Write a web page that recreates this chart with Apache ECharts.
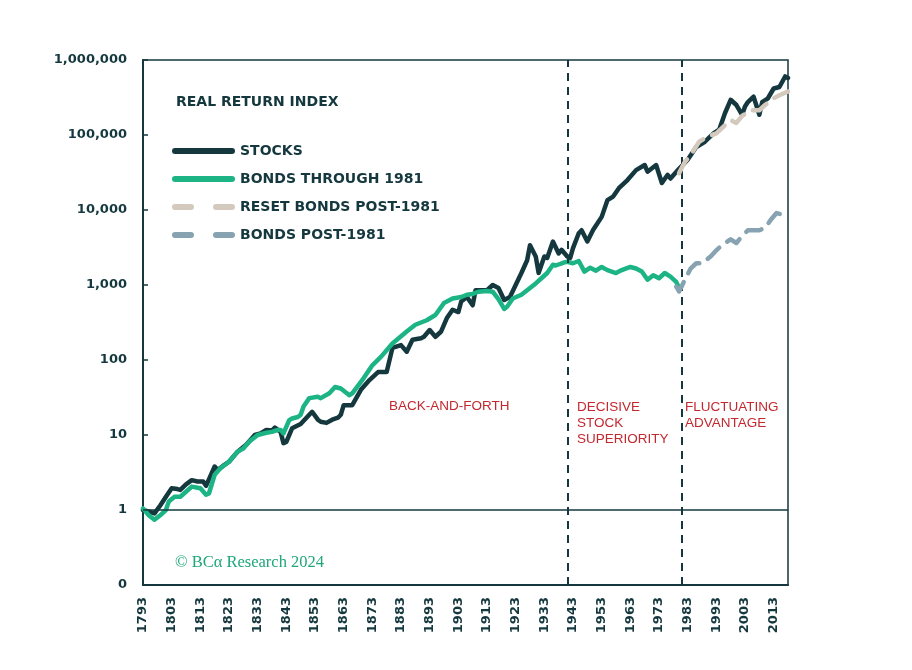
<!DOCTYPE html>
<html>
<head>
<meta charset="utf-8">
<script src="https://cdn.jsdelivr.net/npm/echarts@6/dist/echarts.min.js"></script>
<style>
html,body{margin:0;padding:0;background:#fff;}
#chart{width:912px;height:670px;}
</style>
</head>
<body>
<div id="chart"></div>
<script>
// ---- Data ----
const firstYear = 1793;
const lastYear = 2018;
const years = [];
for (let y = firstYear; y <= lastYear; y++) years.push(String(y));

const yTickValues = [0.1, 1, 10, 100, 1000, 10000, 100000, 1000000];
const regimeBreaks = ['1941', '1981'];

const stocks = [
  [1793,1.0],[1795,0.95],[1797,0.9],[1799,1.15],[1801,1.5],[1803,1.95],[1805,1.9],[1806,1.85],
  [1808,2.2],[1810,2.5],[1812,2.4],[1814,2.4],[1815,2.1],[1818,3.8],[1819,3.4],[1821,3.9],
  [1823,4.4],[1826,6.0],[1829,7.4],[1832,10],[1834,10.5],[1836,11.7],[1838,11.5],[1839,12.6],
  [1841,11],[1842,7.8],[1843,8.1],[1845,12.3],[1848,14],[1851,18.6],[1852,20.4],[1854,16],
  [1855,15],[1857,14.5],[1859,16],[1861,17],[1862,18.6],[1863,25],[1866,25],[1869,40],
  [1872,54],[1875,69],[1878,69],[1880,145],[1883,158],[1885,129],[1887,186],[1890,195],
  [1891,204],[1893,251],[1895,204],[1897,240],[1899,363],[1901,468],[1903,436],[1904,603],
  [1906,692],[1908,537],[1909,851],[1913,851],[1915,1000],[1917,912],[1919,631],[1921,692],
  [1923,1000],[1925,1445],[1927,2138],[1928,3388],[1930,2400],[1931,1450],[1932,1860],[1933,2400],
  [1934,2290],[1936,3800],[1938,2630],[1939,2950],[1941,2400],[1942,2290],[1943,3100],[1945,4900],
  [1946,5370],[1948,3800],[1950,5400],[1953,8100],[1955,13500],[1957,15100],[1959,19500],
  [1962,25100],[1965,34000],[1968,39800],[1969,32400],[1972,39800],[1974,22900],[1976,29500],
  [1977,26300],[1980,35500],[1983,46800],[1986,69200],[1989,81300],[1992,105000],[1994,117500],
  [1996,195000],[1998,295000],[2000,251000],[2002,186000],[2003,240000],[2004,275000],[2006,324000],
  [2008,186000],[2009,275000],[2011,309000],[2013,417000],[2015,437000],[2017,603000],[2018,575000]
];

const bondsThrough1981 = [
  [1793,1.05],[1795,0.85],[1797,0.74],[1799,0.85],[1801,1.0],[1802,1.3],[1804,1.5],[1806,1.5],
  [1808,1.75],[1810,2.05],[1813,1.95],[1815,1.6],[1816,1.66],[1818,2.95],[1820,3.6],[1823,4.4],
  [1826,6.0],[1828,6.6],[1830,8.1],[1833,10],[1836,10.7],[1838,11],[1840,11.7],[1841,11.7],
  [1842,10.5],[1844,15.8],[1845,16.6],[1847,17.4],[1848,18.6],[1849,24],[1851,31],[1854,32.4],
  [1855,31],[1858,36],[1860,43.7],[1862,41.7],[1865,33.9],[1866,36],[1870,57.5],[1873,85],
  [1876,110],[1880,166],[1885,240],[1888,295],[1892,339],[1895,398],[1898,575],[1901,661],
  [1904,692],[1906,741],[1908,760],[1910,813],[1913,832],[1915,813],[1917,650],[1919,479],
  [1920,513],[1922,660],[1925,741],[1928,912],[1930,1050],[1932,1230],[1934,1445],[1936,1860],
  [1937,1820],[1940,2000],[1941,2040],[1943,1950],[1945,2090],[1947,1510],[1949,1700],[1951,1550],
  [1953,1740],[1955,1580],[1958,1445],[1960,1580],[1963,1740],[1965,1660],[1967,1510],[1969,1175],
  [1971,1350],[1973,1230],[1975,1445],[1977,1290],[1979,1100],[1980,910]
];

const resetBondsPost1981 = [
  [1980,31000],[1982,43600],[1984,53700],[1987,81300],[1990,95500],[1993,105000],[1996,135000],
  [1998,158000],[2000,145000],[2002,180000],[2005,214000],[2008,214000],[2010,251000],
  [2013,309000],[2015,339000],[2018,380000]
];

const bondsPost1981 = [
  [1979,950],[1980,820],[1982,1170],[1984,1650],[1986,1950],[1988,1950],[1991,2400],[1993,2900],
  [1995,3400],[1998,4070],[2000,3630],[2002,4500],[2004,5370],[2008,5370],[2010,5750],
  [2012,7400],[2014,9100],[2016,8700],[2018,9550]
];

// ---- Styles ----
const DARK = '#14383e';
const GREEN = '#1cb485';
const BEIGE = '#d3c9bd';
const STEEL = '#87a3b2';
const RED = '#c3282f';
const AXIS_FONT = 'DejaVu Sans';

// legend icons: a solid rounded bar and two rounded dashes
const SOLID_ICON = 'path://M3,0H60A3,3 0 0 1 60,6H3A3,3 0 0 1 3,0Z';
const DASH_ICON = 'path://M3,0H19A3,3 0 0 1 19,6H3A3,3 0 0 1 3,0Z M44,0H60A3,3 0 0 1 60,6H44A3,3 0 0 1 44,0Z';

function toSeriesData(pairs) {
  return pairs.map(p => [years.indexOf(String(p[0])), p[1]]);
}

function fmtY(v) {
  if (v < 1) return '0';
  return Math.round(v).toLocaleString('en-US');
}

const chart = echarts.init(document.getElementById('chart'), null, {renderer: 'canvas'});

const option = {
  animation: false,
  backgroundColor: '#ffffff',
  grid: {
    left: 143, top: 60, right: 124, bottom: 85,
    show: true, borderColor: DARK, borderWidth: 1.5, backgroundColor: 'transparent'
  },
  title: {
    text: 'REAL RETURN INDEX',
    left: 171, top: 90,
    textStyle: {fontFamily: AXIS_FONT, fontSize: 14, fontWeight: 'bold', color: DARK}
  },
  legend: {
    orient: 'vertical',
    left: 172, top: 144,
    padding: 0,
    itemWidth: 63, itemHeight: 6, itemGap: 14,
    textStyle: {fontFamily: AXIS_FONT, fontSize: 14, fontWeight: 'bold', color: DARK, lineHeight: 14},
    data: [
      {name: 'STOCKS', icon: SOLID_ICON},
      {name: 'BONDS THROUGH 1981', icon: SOLID_ICON},
      {name: 'RESET BONDS POST-1981', icon: DASH_ICON},
      {name: 'BONDS POST-1981', icon: DASH_ICON}
    ]
  },
  xAxis: {
    type: 'category',
    data: years,
    boundaryGap: false,
    axisLine: {show: true, lineStyle: {color: DARK, width: 2}},
    axisTick: {show: false},
    axisLabel: {
      interval: 9, rotate: 90, margin: 12,
      fontFamily: AXIS_FONT, fontSize: 13, fontWeight: 'bold', color: DARK
    },
    splitLine: {show: false}
  },
  yAxis: {
    type: 'log',
    logBase: 10,
    min: yTickValues[0],
    max: yTickValues[yTickValues.length - 1],
    axisLine: {show: true, lineStyle: {color: DARK, width: 2}},
    axisTick: {show: true, inside: true, length: 5, lineStyle: {color: DARK, width: 1.5}},
    axisLabel: {
      margin: 16, formatter: fmtY,
      fontFamily: AXIS_FONT, fontSize: 13, fontWeight: 'bold', color: DARK
    },
    splitLine: {show: false}
  },
  series: [
    {
      name: 'STOCKS', type: 'line', data: toSeriesData(stocks),
      showSymbol: false, symbol: 'none', z: 3,
      lineStyle: {color: DARK, width: 4.5, join: 'round', cap: 'round'},
      itemStyle: {color: DARK},
      markLine: {
        silent: true, symbol: ['none', 'none'],
        label: {show: false},
        data: [
          {yAxis: 1, lineStyle: {color: DARK, width: 1.5, type: 'solid'}},
          {xAxis: regimeBreaks[0], lineStyle: {color: DARK, width: 2, type: [8, 6]}},
          {xAxis: regimeBreaks[1], lineStyle: {color: DARK, width: 2, type: [8, 6]}}
        ]
      }
    },
    {
      name: 'BONDS THROUGH 1981', type: 'line', data: toSeriesData(bondsThrough1981),
      showSymbol: false, symbol: 'none', z: 4,
      lineStyle: {color: GREEN, width: 4.5, join: 'round', cap: 'round'},
      itemStyle: {color: GREEN}
    },
    {
      name: 'RESET BONDS POST-1981', type: 'line', data: toSeriesData(resetBondsPost1981),
      showSymbol: false, symbol: 'none', z: 5,
      lineStyle: {color: BEIGE, width: 4.5, type: [16, 10], join: 'round', cap: 'round'},
      itemStyle: {color: BEIGE}
    },
    {
      name: 'BONDS POST-1981', type: 'line', data: toSeriesData(bondsPost1981),
      showSymbol: false, symbol: 'none', z: 5,
      lineStyle: {color: STEEL, width: 4.5, type: [16, 10], join: 'round', cap: 'round'},
      itemStyle: {color: STEEL}
    }
  ],
  graphic: [
    {type: 'text', left: 389, top: 399, style: {text: 'BACK-AND-FORTH', fill: RED, font: '13.5px "Liberation Sans"'}},
    {type: 'text', left: 577, top: 399, style: {text: 'DECISIVE\nSTOCK\nSUPERIORITY', fill: RED, font: '13.5px "Liberation Sans"', lineHeight: 16}},
    {type: 'text', left: 685, top: 399, style: {text: 'FLUCTUATING\nADVANTAGE', fill: RED, font: '13.5px "Liberation Sans"', lineHeight: 16}},
    {type: 'text', left: 175, top: 554, style: {text: '© BCα Research 2024', fill: '#1fa67a', font: '16.5px "Liberation Serif"'}}
  ]
};

chart.setOption(option);
</script>
</body>
</html>
